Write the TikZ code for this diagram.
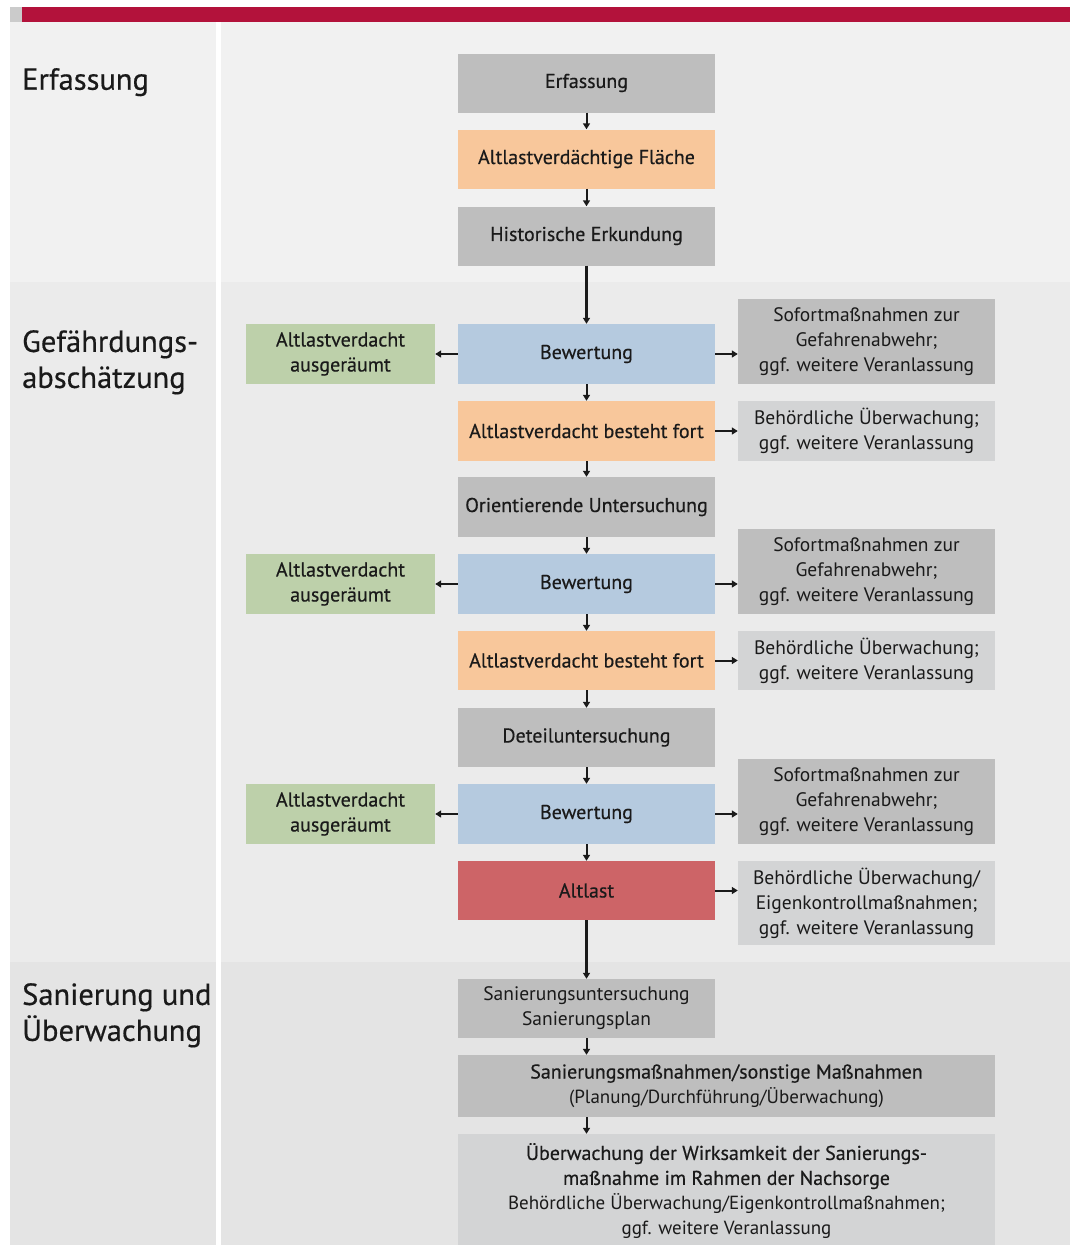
\documentclass[tikz,border=0pt]{standalone}
\usepackage{fontspec}
\setmainfont{PT Sans}
\newfontfamily\medfont{PT Sans}[FakeBold=0.45]
\usetikzlibrary{positioning,arrows.meta}

\definecolor{barred}{HTML}{B3123B}
\definecolor{panelA}{HTML}{F1F1F1}
\definecolor{panelB}{HTML}{EBEBEB}
\definecolor{panelC}{HTML}{E4E4E4}
\definecolor{boxgray}{HTML}{BEBEBE}
\definecolor{boxlight}{HTML}{D3D4D5}
\definecolor{boxorange}{HTML}{F8C79B}
\definecolor{boxblue}{HTML}{B5CADF}
\definecolor{boxgreen}{HTML}{BDD0AA}
\definecolor{boxred}{HTML}{CD6467}
\definecolor{ink}{HTML}{1A1A1A}

\newcommand{\thinline}[1]{{\normalfont\fontsize{19}{25}\selectfont #1}}

\begin{document}
\begin{tikzpicture}[x=1pt,y=-1pt,
  box/.style={minimum width=257pt, minimum height=59pt, inner sep=0pt, align=center,
    text=ink, font=\medfont\fontsize{20}{25}\selectfont},
  greenbox/.style={box, fill=boxgreen, minimum width=189pt, minimum height=60pt},
  sidebox/.style={box, minimum width=257pt, font=\fontsize{19.5}{25}\selectfont},
  heading/.style={anchor=north west, align=left, inner sep=0pt, text=ink,
    font=\medfont\fontsize{30.5}{36}\selectfont},
  arr/.style={-{Triangle[length=6pt,width=7pt]}, line width=2pt, draw=ink}
]
  \useasboundingbox (0,0) rectangle (1076,1245);

  % Background panels
  \fill[panelA] (10,22) rectangle (1070,282);
  \fill[panelB] (10,282) rectangle (1070,962);
  \fill[panelC] (10,962) rectangle (1070,1245);
  \fill[white] (216,22) rectangle (221,1245);
  \fill[boxgray!80] (10,7) rectangle (22,22);
  \fill[barred] (22,7) rectangle (1070,22);

  % Section headings
  \node[heading] (hErf) at (22,68) {Erfassung};
  \node[heading] (hGef) at (22,330) {Gefährdungs-\\abschätzung};
  \node[heading] (hSan) at (22,983) {Sanierung und\\Überwachung};

  % Main column
  \node[box, fill=boxgray] (erf) at (586.5,83) {Erfassung};
  \node[box, fill=boxorange] (flaeche) at (586.5,159) {Altlastverdächtige Fläche};
  \node[box, fill=boxgray] (hist) at (586.5,236) {Historische Erkundung};
  \node[box, fill=boxorange, minimum height=60pt] (fort1) at (586.5,431) {Altlastverdacht besteht fort};
  \node[box, fill=boxgray, minimum height=60pt] (ori) at (586.5,507) {Orientierende Untersuchung};
  \node[box, fill=boxorange] (fort2) at (586.5,660.5) {Altlastverdacht besteht fort};
  \node[box, fill=boxgray] (det) at (586.5,737.5) {Deteiluntersuchung};
  \node[box, fill=boxred] (altlast) at (586.5,890.5) {Altlast};
  \node[sidebox, fill=boxgray] (san1) at (586.5,1008.5) {Sanierungsuntersuchung\\Sanierungsplan};
  \node[box, fill=boxgray, minimum width=537pt, minimum height=62pt] (san2) at (726.5,1086)
    {Sanierungsmaßnahmen/sonstige Maßnahmen\\\thinline{(Planung/Durchführung/Überwachung)}};
  \node[box, fill=boxlight, minimum width=537pt, minimum height=114pt] (ueb) at (726.5,1191)
    {Überwachung der Wirksamkeit der Sanierungs-\\maßnahme im Rahmen der Nachsorge\\
     \thinline{Behördliche Überwachung/Eigenkontrollmaßnahmen;}\\\thinline{ggf. weitere Veranlassung}};

  % Side boxes
  \node[sidebox, fill=boxlight, minimum height=60pt] (beh1) at (866.5,431) {Behördliche Überwachung;\\ggf. weitere Veranlassung};
  \node[sidebox, fill=boxlight] (beh2) at (866.5,660.5) {Behördliche Überwachung;\\ggf. weitere Veranlassung};
  \node[sidebox, fill=boxlight, minimum height=84pt] (beh3) at (866.5,903) {Behördliche Überwachung/\\Eigenkontrollmaßnahmen;\\ggf. weitere Veranlassung};

  % Bewertung groups
  \foreach \i/\y in {1/354, 2/584, 3/814} {
    \node[box, fill=boxblue, minimum height=60pt] (bew\i) at (586.5,\y) {Bewertung};
    \node[greenbox] (aus\i) at (340.5,\y) {Altlastverdacht\\ausgeräumt};
    \node[sidebox, fill=boxgray, minimum height=85pt] (sof\i) at (866.5,\y-12.5)
      {Sofortmaßnahmen zur\\Gefahrenabwehr;\\ggf. weitere Veranlassung};
    \draw[arr] (bew\i.west) -- (aus\i.east);
    \draw[arr] (bew\i.east) -- (bew\i.east -| sof\i.west);
  }

  % Vertical flow
  \draw[arr] (erf) -- (flaeche);
  \draw[arr] (flaeche) -- (hist);
  \draw[arr, line width=3pt] (hist) -- (bew1);
  \draw[arr] (bew1) -- (fort1);
  \draw[arr] (fort1) -- (ori);
  \draw[arr] (ori) -- (bew2);
  \draw[arr] (bew2) -- (fort2);
  \draw[arr] (fort2) -- (det);
  \draw[arr] (det) -- (bew3);
  \draw[arr] (bew3) -- (altlast);
  \draw[arr, line width=3pt] (altlast) -- (san1);
  \draw[arr] (san1.south) -- (san1.south |- san2.north);
  \draw[arr] (san1.south |- san2.south) -- (san1.south |- ueb.north);

  % Side flow
  \draw[arr] (fort1.east) -- (fort1.east -| beh1.west);
  \draw[arr] (fort2.east) -- (fort2.east -| beh2.west);
  \draw[arr] (altlast.east) -- (altlast.east -| beh3.west);
\end{tikzpicture}
\end{document}
